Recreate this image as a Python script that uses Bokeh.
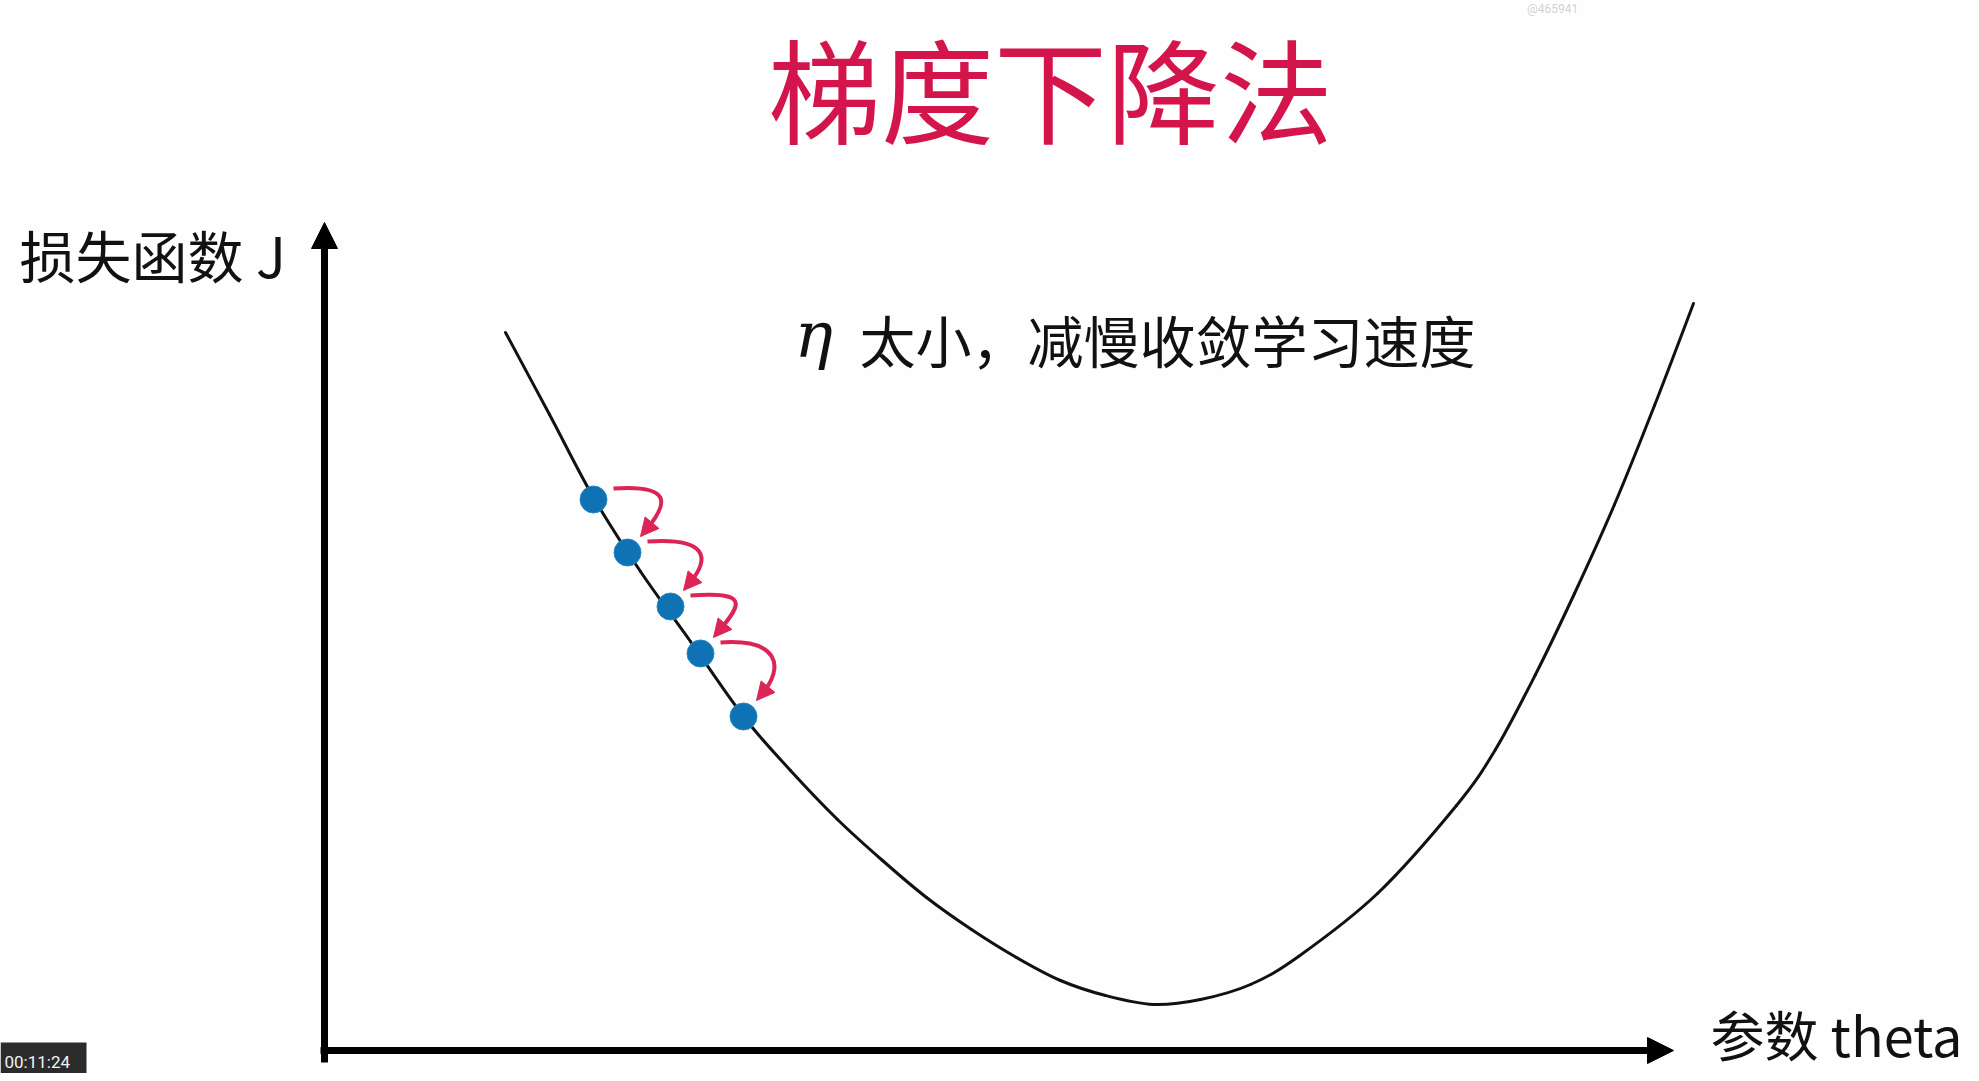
# gradient descent slide: eta too small -> slow convergence

from bokeh.plotting import figure
from bokeh.models import Range1d, Arrow, NormalHead, ColumnDataSource
from bokeh.core.properties import value
from bokeh.embed import file_html
from bokeh.resources import INLINE
import numpy as np

# ---- data (theta / J units)
# loss curve
theta = [1.81, 2.25, 2.69, 3.16, 3.66, 4.19, 4.66, 5.13, 5.58, 6.02, 6.47,
         6.92, 7.36, 7.81, 8.29, 8.76, 9.26, 9.74, 10.53, 11.32, 11.71,
         12.11, 12.50, 12.90, 13.30, 13.69]
J = [7.18, 6.36, 5.53, 4.79, 4.09, 3.34, 2.80, 2.31, 1.90, 1.53, 1.21,
     0.93, 0.70, 0.55, 0.46, 0.51, 0.66, 0.94, 1.57, 2.45, 3.01,
     3.76, 4.57, 5.46, 6.45, 7.47]

# gradient descent steps
step_theta = [2.69, 3.03, 3.46, 3.76, 4.19]
step_J = [5.51, 4.98, 4.44, 3.97, 3.34]

title_text = "梯度下降法"
y_label = "损失函数 J"
x_label = "参数 theta"
eta_symbol = "η"
note_text = "太小，减慢收敛学习速度"
timestamp = "00:11:24"
watermark = "@465941"

RED = "#dc2456"
CJK = value("Noto Sans CJK SC")

# ---- figure
p = figure(width=1971, height=1073,
           x_range=Range1d(-3.24, 16.47), y_range=Range1d(-0.23, 10.50),
           x_axis_location=None, y_axis_location=None,
           output_backend="svg", toolbar_location=None, min_border=0)
p.grid.visible = False
p.outline_line_color = None
p.background_fill_color = "#fefefe"
p.border_fill_color = "#fefefe"

# axes drawn as arrows
p.add_layout(Arrow(end=NormalHead(size=26, fill_color="black", line_color="black"),
                   x_start=0, y_start=-0.12, x_end=0, y_end=8.28,
                   line_width=7, line_color="black"))
p.add_layout(Arrow(end=NormalHead(size=26, fill_color="black", line_color="black"),
                   x_start=-0.04, y_start=0, x_end=13.49, y_end=0,
                   line_width=7, line_color="black"))

# loss curve, drawn as smooth bezier pieces through the read points
px = np.array(theta)
py = np.array(J)
ex = np.concatenate([[px[0]], px, [px[-1]]])
ey = np.concatenate([[py[0]], py, [py[-1]]])
n = len(px) - 1
p.bezier(x0=px[:-1], y0=py[:-1], x1=px[1:], y1=py[1:],
         cx0=px[:-1] + (ex[2:n + 2] - ex[0:n]) / 6,
         cy0=py[:-1] + (ey[2:n + 2] - ey[0:n]) / 6,
         cx1=px[1:] - (ex[3:n + 3] - ex[1:n + 1]) / 6,
         cy1=py[1:] - (ey[3:n + 3] - ey[1:n + 1]) / 6,
         line_width=3, line_color="#111111", line_cap="round")

# curved red arrows between consecutive steps
st = np.array(step_theta)
sj = np.array(step_J)
x0 = st[:-1] + 0.20
y0 = sj[:-1] + 0.11
tip_x = st[1:] + 0.13
tip_y = sj[1:] + 0.16
neck_x = tip_x + 0.05
neck_y = tip_y + 0.06
p.bezier(x0=x0, y0=y0, x1=neck_x, y1=neck_y,
         cx0=x0 + 0.58, cy0=y0 + 0.04, cx1=neck_x + 0.24, cy1=neck_y + 0.28,
         line_color=RED, line_width=4)
heads = ColumnDataSource(dict(xs=neck_x, ys=neck_y, xe=tip_x, ye=tip_y))
p.add_layout(Arrow(source=heads, x_start="xs", y_start="ys", x_end="xe", y_end="ye",
                   end=NormalHead(size=18, fill_color=RED, line_color=RED, line_width=1),
                   line_color=RED, line_width=4))

# step points
p.scatter(step_theta, step_J, size=27, fill_color="#0f72b4", line_color="#2b88c2", line_width=1)

# texts
p.text(x=[7.26], y=[9.65], text=[title_text], text_font=CJK, text_font_size="113px",
       text_color="#d4154c", text_align="center", text_baseline="middle")
p.text(x=[-3.05], y=[7.97], text=[y_label], text_font=CJK, text_font_size="56px",
       text_color="#111111", text_align="left", text_baseline="middle")
p.text(x=[13.86], y=[-0.22], text=[x_label], text_font=CJK, text_font_size="54px",
       text_color="#111111", text_align="left", text_baseline="bottom")
p.text(x=[4.70], y=[7.16], text=[eta_symbol], text_font=value("DejaVu Serif"),
       text_font_style="italic", text_font_size="64px", text_color="#111111",
       text_align="left", text_baseline="alphabetic")
p.text(x=[5.35], y=[7.12], text=[note_text], text_font=CJK, text_font_size="56px",
       text_color="#111111", text_align="left", text_baseline="middle")

# video overlay bits
p.quad(left=[-3.24], right=[-2.38], bottom=[-0.23], top=[0.08],
       fill_color="#2b2b2b", line_color=None)
p.text(x=[-3.20], y=[-0.11], text=[timestamp], text_font=value("Roboto"),
       text_font_size="17px", text_color="#f2f2f2", text_align="left",
       text_baseline="middle")
p.text(x=[12.28], y=[10.49], text=[watermark], text_font=value("Roboto"),
       text_font_size="12px", text_color="#d2d2d2", text_align="center",
       text_baseline="top")

open("out.html", "w", encoding="utf-8").write(file_html(p, INLINE, title_text))
